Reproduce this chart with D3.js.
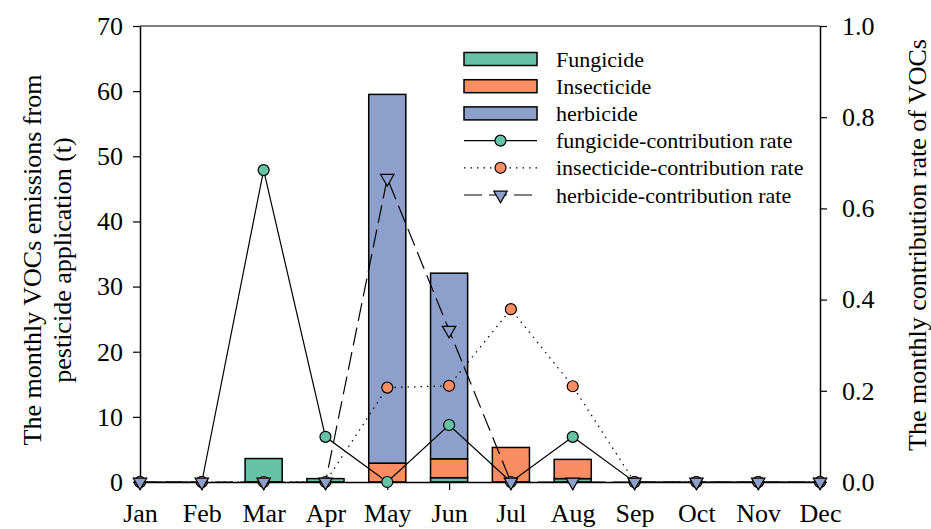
<!DOCTYPE html>
<html>
<head>
<meta charset="utf-8">
<script src="https://cdn.jsdelivr.net/npm/d3@7"></script>
<style>
  html, body { margin: 0; padding: 0; background: #fff; }
  svg { display: block; }
  svg text { font-family: "Liberation Serif", Tinos, "Times New Roman", Times, "DejaVu Serif", serif !important; }
</style>
</head>
<body>
<svg id="chart" width="931" height="529"></svg>
<script>
// Months on the shared x axis
const months = ["Jan", "Feb", "Mar", "Apr", "May", "Jun", "Jul", "Aug", "Sep", "Oct", "Nov", "Dec"];

// Monthly VOC emissions (t) by pesticide type, stacked in this order
const fungicide   = [0, 0, 3.6, 0.52, 0, 0.66, 0, 0.52, 0, 0, 0, 0];
const insecticide = [0, 0, 0, 0, 2.9, 2.9, 5.3, 2.95, 0, 0, 0, 0];
const herbicide   = [0, 0, 0, 0, 56.6, 28.5, 0, 0, 0, 0, 0, 0];

// Monthly contribution rate of each type to its annual total
const fungicideRate   = [0, 0, 0.684, 0.099, 0, 0.125, 0, 0.099, 0, 0, 0, 0];
const insecticideRate = [0, 0, 0, 0, 0.207, 0.211, 0.379, 0.21, 0, 0, 0, 0];
const herbicideRate   = [0, 0, 0, 0, 0.666, 0.333, 0, 0, 0, 0, 0, 0];

// Axis ticks
const leftTicks  = [0, 10, 20, 30, 40, 50, 60, 70];
const rightTicks = [0, 0.2, 0.4, 0.6, 0.8, 1.0];

const colors = { fungicide: "#66c2a5", insecticide: "#fc8d62", herbicide: "#8da0cb" };
const serif = "'Liberation Serif', Tinos, 'Times New Roman', Times, 'DejaVu Serif', serif";

const svg = d3.select("#chart");
const plotL = 140, plotR = 820, plotT = 26, plotB = 482;

const x = d3.scalePoint().domain(months).range([plotL, plotR]).padding(0);
const y = d3.scaleLinear().domain([0, 70]).range([plotB, plotT]);
const y2 = d3.scaleLinear().domain([0, 1]).range([plotB, plotT]);
const step = x.step();
const barW = step * 0.6;

// Stacked bars
const rows = months.map((m, i) => ({ month: m, fungicide: fungicide[i], insecticide: insecticide[i], herbicide: herbicide[i] }));
const keys = ["fungicide", "insecticide", "herbicide"];
const stacked = d3.stack().keys(keys)(rows);

const barG = svg.append("g");
stacked.forEach(layer => {
  barG.append("g")
    .selectAll("rect")
    .data(layer.filter(d => d[1] - d[0] > 0))
    .join("rect")
    .attr("x", d => x(d.data.month) - barW / 2)
    .attr("y", d => y(d[1]))
    .attr("width", barW)
    .attr("height", d => y(d[0]) - y(d[1]))
    .attr("fill", colors[layer.key])
    .attr("stroke", "#000")
    .attr("stroke-width", 1.5);
});

// Top frame line
svg.append("line").attr("x1", plotL).attr("x2", plotR).attr("y1", plotT).attr("y2", plotT)
  .attr("stroke", "#000").attr("stroke-width", 1.2);

// Axes
const fontSize = 26;
const leftAxis = svg.append("g").attr("transform", `translate(${plotL},0)`)
  .call(d3.axisLeft(y).tickValues(leftTicks).tickFormat(d3.format("d")).tickSize(7).tickSizeOuter(0).tickPadding(10));
const rightAxis = svg.append("g").attr("transform", `translate(${plotR},0)`)
  .call(d3.axisRight(y2).tickValues(rightTicks).tickFormat(d3.format(".1f")).tickSize(7).tickSizeOuter(0).tickPadding(15));
const bottomAxis = svg.append("g").attr("transform", `translate(0,${plotB})`)
  .call(d3.axisBottom(x).tickSize(8).tickSizeOuter(0).tickPadding(14));

[leftAxis, rightAxis, bottomAxis].forEach(g => {
  g.attr("font-family", serif).attr("font-size", fontSize);
  g.selectAll("path.domain").attr("stroke", "#000").attr("stroke-width", 1.5);
  g.selectAll(".tick line").attr("stroke", "#000").attr("stroke-width", 1.2);
  g.selectAll(".tick text").attr("fill", "#000");
});

// Contribution-rate lines with markers
const lineGen = d3.line().x((d, i) => x(months[i])).y(d => y2(d));
const triangle = d3.symbol().type(d3.symbolTriangle).size(78);

function drawSeries(values, dash, color, marker) {
  const g = svg.append("g");
  g.append("path")
    .datum(values)
    .attr("d", lineGen)
    .attr("fill", "none")
    .attr("stroke", "#000")
    .attr("stroke-width", 1.2)
    .attr("stroke-dasharray", dash);
  if (marker === "circle") {
    g.selectAll("circle").data(values).join("circle")
      .attr("cx", (d, i) => x(months[i]))
      .attr("cy", d => y2(d))
      .attr("r", 5.5)
      .attr("fill", color)
      .attr("stroke", "#000")
      .attr("stroke-width", 1.2);
  } else {
    g.selectAll("path.mk").data(values).join("path")
      .attr("class", "mk")
      .attr("d", triangle)
      .attr("transform", (d, i) => `translate(${x(months[i])},${y2(d)}) rotate(180)`)
      .attr("fill", color)
      .attr("stroke", "#000")
      .attr("stroke-width", 1.2);
  }
}
drawSeries(fungicideRate, null, colors.fungicide, "circle");
drawSeries(insecticideRate, "1.5,5", colors.insecticide, "circle");
drawSeries(herbicideRate, "18,7", colors.herbicide, "triangle");

// Legend
const legendItems = [
  { label: "Fungicide", type: "bar", color: colors.fungicide },
  { label: "Insecticide", type: "bar", color: colors.insecticide },
  { label: "herbicide", type: "bar", color: colors.herbicide },
  { label: "fungicide-contribution rate", type: "circle", color: colors.fungicide, dash: null },
  { label: "insecticide-contribution rate", type: "circle", color: colors.insecticide, dash: "1.5,5" },
  { label: "herbicide-contribution rate", type: "triangle", color: colors.herbicide, dash: "18,7" }
];
const lx0 = 464, lx1 = 537, ly0 = 59, lstep = 27.2, ltx = 556;
const legend = svg.append("g").attr("font-family", serif).attr("font-size", 22);
legendItems.forEach((it, i) => {
  const cy = ly0 + i * lstep;
  const g = legend.append("g");
  if (it.type === "bar") {
    g.append("rect").attr("x", lx0).attr("y", cy - 6.5).attr("width", lx1 - lx0).attr("height", 13)
      .attr("fill", it.color).attr("stroke", "#000").attr("stroke-width", 1.5);
  } else {
    g.append("line").attr("x1", lx0).attr("x2", lx1).attr("y1", cy).attr("y2", cy)
      .attr("stroke", "#000").attr("stroke-width", 1.2).attr("stroke-dasharray", it.dash);
    const mx = (lx0 + lx1) / 2;
    if (it.type === "circle") {
      g.append("circle").attr("cx", mx).attr("cy", cy).attr("r", 5.5)
        .attr("fill", it.color).attr("stroke", "#000").attr("stroke-width", 1.2);
    } else {
      g.append("path").attr("d", triangle).attr("transform", `translate(${mx},${cy}) rotate(180)`)
        .attr("fill", it.color).attr("stroke", "#000").attr("stroke-width", 1.2);
    }
  }
  g.append("text").attr("x", ltx).attr("y", cy + 7.5).attr("fill", "#000").text(it.label);
});

// Axis titles
const leftTitle = svg.append("text")
  .attr("transform", "translate(41,260) rotate(-90)")
  .attr("text-anchor", "middle")
  .attr("font-family", serif)
  .attr("font-size", fontSize)
  .attr("fill", "#000");
leftTitle.append("tspan").attr("x", 0).attr("y", 0).text("The monthly VOCs emissions from");
leftTitle.append("tspan").attr("x", 0).attr("y", 30).text("pesticide application (t)");

svg.append("text")
  .attr("transform", "translate(926,245) rotate(-90)")
  .attr("text-anchor", "middle")
  .attr("font-family", serif)
  .attr("font-size", fontSize)
  .attr("fill", "#000")
  .text("The monthly contribution rate of VOCs");
</script>
</body>
</html>
